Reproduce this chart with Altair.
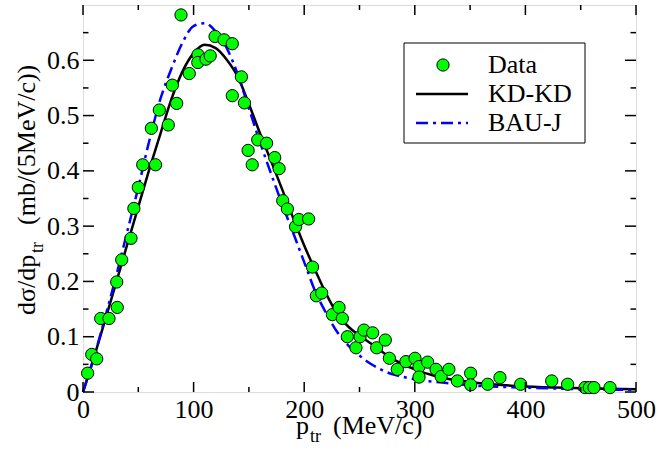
import altair as alt
import pandas as pd

# ---- data ----
data_x = [4.2, 7.9, 12.4, 16.0, 23.5, 30.5, 31.0, 35.0, 43.4, 46.0, 50.0, 54.0, 65.6, 61.8, 69.0,
          77.1, 80.8, 84.7, 88.6, 96.1, 104.0, 103.8, 111.2, 115.0, 119.4, 127.5, 135.0, 135.0,
          143.2, 146.0, 149.3, 153.0, 158.0, 166.0, 173.3, 177.3, 180.6, 184.8, 192.2, 195.2,
          204.0, 207.5, 211.0, 215.8, 225.5, 231.5, 234.5, 239.0, 246.8, 250.5, 254.0, 261.9,
          265.5, 273.3, 277.0, 284.2, 292.0, 300.2, 303.8, 303.8, 311.6, 319.2, 323.8, 330.8,
          338.5, 350.5, 350.5, 365.9, 377.0, 395.7, 423.8, 438.2, 453.9, 457.8, 462.0, 476.5]
data_y = [0.034, 0.068, 0.060, 0.133, 0.133, 0.199, 0.153, 0.239, 0.278, 0.332, 0.370, 0.411, 0.411,
          0.477, 0.510, 0.483, 0.555, 0.522, 0.682, 0.576, 0.610, 0.596, 0.602, 0.608, 0.643,
          0.637, 0.630, 0.536, 0.570, 0.523, 0.437, 0.411, 0.456, 0.450, 0.424, 0.404, 0.346,
          0.331, 0.299, 0.312, 0.313, 0.226, 0.174, 0.179, 0.140, 0.153, 0.133, 0.100, 0.080,
          0.100, 0.112, 0.107, 0.080, 0.094, 0.061, 0.041, 0.055, 0.061, 0.046, 0.027, 0.054,
          0.041, 0.028, 0.041, 0.020, 0.034, 0.013, 0.014, 0.026, 0.014, 0.020, 0.014, 0.008,
          0.008, 0.008, 0.008]

kd_x = [0, 10, 20, 30, 40, 50, 60, 70, 80, 90, 100, 110, 120, 130, 140, 150, 160, 170, 180, 190,
        200, 210, 220, 230, 240, 250, 260, 280, 300, 320, 350, 400, 450, 500]
kd_y = [0, 0.063, 0.130, 0.198, 0.267, 0.335, 0.403, 0.467, 0.530, 0.580, 0.613, 0.628, 0.622,
        0.601, 0.570, 0.521, 0.468, 0.418, 0.367, 0.315, 0.265, 0.220, 0.177, 0.141, 0.118,
        0.102, 0.088, 0.060, 0.041, 0.028, 0.018, 0.010, 0.007, 0.005]

bau_x = [0, 10, 20, 30, 40, 50, 60, 70, 80, 90, 100, 110, 120, 130, 140, 150, 160, 170, 180, 190,
         200, 210, 220, 230, 240, 250, 260, 270, 280, 290, 300, 325, 350, 400, 450, 500]
bau_y = [0, 0.063, 0.135, 0.210, 0.290, 0.370, 0.455, 0.530, 0.585, 0.632, 0.662, 0.667, 0.652,
         0.622, 0.574, 0.513, 0.452, 0.395, 0.340, 0.288, 0.235, 0.182, 0.142, 0.108, 0.084,
         0.066, 0.051, 0.040, 0.032, 0.027, 0.023, 0.017, 0.012, 0.008, 0.005, 0.004]

x_major = [0, 100, 200, 300, 400, 500]
x_minor = [50, 150, 250, 350, 450]
y_major = [0, 0.1, 0.2, 0.3, 0.4, 0.5, 0.6]
y_minor = [0.05, 0.15, 0.25, 0.35, 0.45, 0.55, 0.65]

series_names = ["Data", "KD-KD", "BAU-J"]

# ---- styling ----
W, H = 553, 387
FONT = "Liberation Serif"
GREEN = "#00ff00"
BLUE = "#0000ff"
DASH = [12, 5, 3, 5]

xs = alt.Scale(domain=[0, 500], nice=False, zero=False)
ys = alt.Scale(domain=[0, 0.7], nice=False, zero=False)

pts_df = pd.DataFrame({"x": data_x, "y": data_y})
kd_df = pd.DataFrame({"x": kd_x, "y": kd_y})
bau_df = pd.DataFrame({"x": bau_x, "y": bau_y})

xaxis = alt.Axis(values=x_major, ticks=False, domain=False, grid=False, title=None,
                 labelFont=FONT, labelFontSize=26, labelColor="black", labelPadding=4,
                 labelFlush=False, labelOverlap=False, format="d")
yaxis = alt.Axis(values=y_major, ticks=False, domain=False, grid=False, title=None,
                 labelFont=FONT, labelFontSize=26, labelColor="black", labelPadding=4,
                 labelFlush=False, labelOverlap=False,
                 labelExpr="datum.value == 0 ? '0' : format(datum.value, '.1f')")

base_pts = alt.Chart(pts_df).mark_point(
    filled=True, shape="circle", size=150, color=GREEN, stroke="black", strokeWidth=1, opacity=1
).encode(
    x=alt.X("x:Q", scale=xs, axis=xaxis),
    y=alt.Y("y:Q", scale=ys, axis=yaxis),
)

kd_line = alt.Chart(kd_df).mark_line(color="black", strokeWidth=2.5, interpolate="monotone").encode(
    x=alt.X("x:Q", scale=xs), y=alt.Y("y:Q", scale=ys)
)
bau_line = alt.Chart(bau_df).mark_line(color=BLUE, strokeWidth=2.5, strokeDash=DASH,
                                       interpolate="monotone").encode(
    x=alt.X("x:Q", scale=xs), y=alt.Y("y:Q", scale=ys)
)

# inward ticks on all four sides
def xticks(vals, length):
    df = pd.DataFrame({"t": vals})
    bottom = alt.Chart(df).mark_rule(color="black", strokeWidth=1.5).encode(
        x=alt.X("t:Q", scale=xs), y=alt.value(H), y2=alt.value(H - length))
    top = alt.Chart(df).mark_rule(color="black", strokeWidth=1.5).encode(
        x=alt.X("t:Q", scale=xs), y=alt.value(0), y2=alt.value(length))
    return [bottom, top]

def yticks(vals, length):
    df = pd.DataFrame({"t": vals})
    left = alt.Chart(df).mark_rule(color="black", strokeWidth=1.5).encode(
        y=alt.Y("t:Q", scale=ys), x=alt.value(0), x2=alt.value(length))
    right = alt.Chart(df).mark_rule(color="black", strokeWidth=1.5).encode(
        y=alt.Y("t:Q", scale=ys), x=alt.value(W), x2=alt.value(W - length))
    return [left, right]

tick_layers = xticks(x_major, 10) + xticks(x_minor, 5) + yticks(y_major, 11) + yticks(y_minor, 5.5)

one = pd.DataFrame({"a": [0]})

def txt(s, x, y, size=26, angle=0, align="left", baseline="alphabetic"):
    return alt.Chart(one).mark_text(text=s, font=FONT, fontSize=size, color="black",
                                    angle=angle, align=align, baseline=baseline).encode(
        x=alt.value(x), y=alt.value(y))

# axis titles (with subscripts)
titles = [
    txt("p", 213, 429),
    txt("tr", 227, 437, size=18),
    txt("(MeV/c)", 250, 429),
    txt("dσ/dp", -48, 310, angle=270),
    txt("tr", -40, 248, size=18, angle=270),
    txt("(mb/(5MeV/c))", -48, 220, angle=270),
]

# legend box
leg_box = alt.Chart(one).mark_rect(fill="white", stroke="black", strokeWidth=1).encode(
    x=alt.value(321), x2=alt.value(502), y=alt.value(38), y2=alt.value(138))
leg_pt = alt.Chart(one).mark_point(filled=True, shape="circle", size=150, color=GREEN,
                                   stroke="black", strokeWidth=1, opacity=1).encode(
    x=alt.value(360), y=alt.value(60))
leg_kd = alt.Chart(one).mark_rule(color="black", strokeWidth=2.5).encode(
    x=alt.value(333), x2=alt.value(385), y=alt.value(89))
leg_bau = alt.Chart(one).mark_rule(color=BLUE, strokeWidth=2.5, strokeDash=DASH).encode(
    x=alt.value(333), x2=alt.value(385), y=alt.value(118))
leg_text = [txt(series_names[0], 405, 60, baseline="middle"),
            txt(series_names[1], 405, 89, baseline="middle"),
            txt(series_names[2], 405, 118, baseline="middle")]

chart = alt.layer(
    kd_line, bau_line, base_pts, *tick_layers, *titles, leg_box, leg_pt, leg_kd, leg_bau, *leg_text
).properties(
    width=W, height=H,
    autosize=alt.AutoSizeParams(type="none"),
    padding={"left": 83, "top": 5, "right": 21, "bottom": 60},
).configure_view(
    stroke="#222222", strokeWidth=2
).configure(background="white")

chart.save("out.html", embed_options={"renderer": "svg", "actions": False})
